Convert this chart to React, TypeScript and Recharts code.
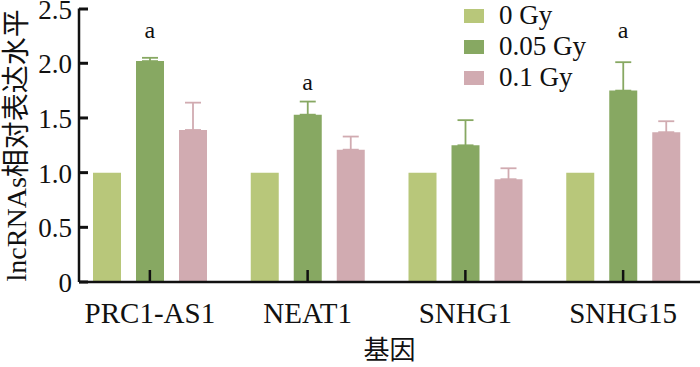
import React from "react";
import {
  ComposedChart,
  Bar,
  ErrorBar,
  Scatter,
  XAxis,
  YAxis,
  Legend,
  ReferenceLine,
} from "recharts";

const genes = ["PRC1-AS1", "NEAT1", "SNHG1", "SNHG15"];
const gy0 = [1, 1, 1, 1];
const gy005 = [2.02, 1.53, 1.25, 1.75];
const gy005Err = [0.03, 0.12, 0.23, 0.26];
const gy01 = [1.39, 1.21, 0.94, 1.37];
const gy01Err = [0.25, 0.12, 0.1, 0.1];
const sigText = ["a", "a", "", "a"];
const sigPos = [2.3, 1.83, null, 2.3];
const yTicks = [0, 0.5, 1, 1.5, 2, 2.5];

const data = genes.map((g, i) => ({
  gene: g,
  g0: gy0[i],
  g005: gy005[i],
  e005: [0, gy005Err[i]],
  g01: gy01[i],
  e01: [0, gy01Err[i]],
  sig: sigText[i],
  sigY: sigPos[i],
}));

const serif = "'Liberation Serif', 'Noto Sans CJK SC', serif";
const cLight = "#b8c77a";
const cDark = "#87a862";
const cPink = "#d1abb1";

const XTick = (props: any) => {
  const { x, y, payload } = props;
  return (
    <text x={x} y={y + 41} textAnchor="middle" fontFamily={serif} fontSize={29} fill="#111">
      {payload.value}
    </text>
  );
};

// short inward tick at each category centre, drawn above the bars
const InTick = (props: any) => {
  const { x1, y1, y2 } = props;
  const bottom = Math.max(y1, y2);
  return <line x1={x1} x2={x1} y1={bottom} y2={bottom - 12} stroke="#111" strokeWidth={2.5} />;
};

const YTick = (props: any) => {
  const { x, y, payload } = props;
  const v = payload.value;
  return (
    <g>
      <line x1={x} x2={x + 9} y1={y} y2={y} stroke="#111" strokeWidth={3} />
      <text x={x - 7} y={y + 10} textAnchor="end" fontFamily={serif} fontSize={27} fill="#111">
        {v === 0 ? "0" : v.toFixed(1)}
      </text>
    </g>
  );
};

const YTitle = (props: any) => {
  const vb = props.viewBox;
  const cx = vb.x + 17;
  const cy = vb.y + vb.height / 2;
  return (
    <text
      x={cx}
      y={cy}
      transform={`rotate(-90 ${cx} ${cy})`}
      textAnchor="middle"
      dominantBaseline="central"
      fontFamily={serif}
      fontSize={28}
      fill="#111"
    >
      lncRNAs相对表达水平
    </text>
  );
};

const SigMark = (props: any) => {
  const { cx, cy, payload } = props;
  if (cy == null || isNaN(cy) || !payload.sig) return <g />;
  return (
    <text x={cx} y={cy + 8} textAnchor="middle" fontFamily={serif} fontSize={24} fill="#111">
      {payload.sig}
    </text>
  );
};

const LegendBox = (props: any) => {
  const items = (props.payload || []).filter((p: any) => p.type !== "none");
  return (
    <div style={{ fontFamily: serif, fontSize: 27, lineHeight: "27px", color: "#111" }}>
      {items.map((p: any) => (
        <div key={p.value} style={{ display: "flex", alignItems: "center", height: 31 }}>
          <span style={{ display: "inline-block", width: 20, height: 14, background: p.color, marginRight: 15 }} />
          <span>{p.value}</span>
        </div>
      ))}
    </div>
  );
};

export default function App() {
  return (
    <div style={{ width: 700, height: 367 }}>
      <style>{"body{margin:0}"}</style>
      <ComposedChart
        width={700}
        height={367}
        data={data}
        margin={{ top: 8.6, right: 0, bottom: 0, left: 0 }}
        barGap={15}
      >
        <Bar dataKey="g0" name="0 Gy" fill={cLight} barSize={28} isAnimationActive={false} />
        <Bar dataKey="g005" name="0.05 Gy" fill={cDark} barSize={28} isAnimationActive={false}>
          <ErrorBar dataKey="e005" width={8} stroke={cDark} strokeWidth={1.8} />
        </Bar>
        <Bar dataKey="g01" name="0.1 Gy" fill={cPink} barSize={28} isAnimationActive={false}>
          <ErrorBar dataKey="e01" width={8} stroke={cPink} strokeWidth={1.8} />
        </Bar>
        <Scatter dataKey="sigY" legendType="none" shape={SigMark} isAnimationActive={false} />
        {genes.map((g) => (
          <ReferenceLine key={g} x={g} shape={InTick} />
        ))}
        <XAxis
          dataKey="gene"
          height={85}
          padding={{ left: -8, right: -2 }}
          axisLine={{ stroke: "#111", strokeWidth: 2.5 }}
          tickLine={false}
          tickSize={0}
          tickMargin={0}
          tick={XTick}
          interval={0}
          label={{ value: "基因", position: "insideBottom", offset: 8, fontFamily: serif, fontSize: 26, fill: "#111" }}
        />
        <YAxis
          width={79}
          domain={[0, 2.5]}
          ticks={yTicks}
          axisLine={{ stroke: "#111", strokeWidth: 2.5 }}
          tickLine={false}
          tickSize={0}
          tickMargin={0}
          tick={YTick}
          label={{ content: YTitle }}
        />
        <Legend
          layout="horizontal"
          align="center"
          verticalAlign="middle"
          content={LegendBox}
          wrapperStyle={{ left: 464, top: 0, width: 200 }}
        />
      </ComposedChart>
    </div>
  );
}
